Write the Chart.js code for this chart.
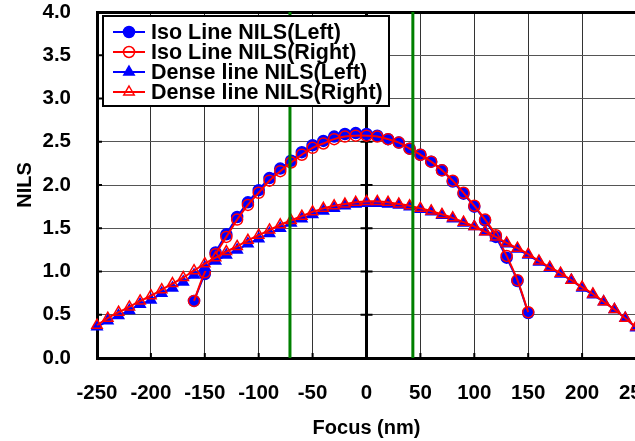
<!DOCTYPE html>
<html>
<head>
<meta charset="utf-8">
<script src="https://cdn.jsdelivr.net/npm/chart.js@4/dist/chart.umd.min.js"></script>
<style>
  html, body { margin: 0; padding: 0; background: #fff; overflow: hidden; }
  #wrap { position: relative; width: 660px; height: 441px; }
</style>
</head>
<body>
<div id="wrap"><canvas id="nilsChart"></canvas></div>
<script>
// focus positions (nm)
const focusIso = [-160, -150, -140, -130, -120, -110, -100, -90, -80, -70, -60, -50, -40, -30, -20, -10,
    0, 10, 20, 30, 40, 50, 60, 70, 80, 90, 100, 110, 120, 130, 140, 150];
const focusDense = [-250, -240, -230, -220, -210, -200, -190, -180, -170, -160, -150, -140, -130, -120, -110, -100,
    -90, -80, -70, -60, -50, -40, -30, -20, -10, 0, 10, 20, 30, 40, 50, 60, 70, 80, 90, 100,
    110, 120, 130, 140, 150, 160, 170, 180, 190, 200, 210, 220, 230, 240, 250];

// NILS values
const isoLeft = [0.66, 0.97, 1.22, 1.43, 1.63, 1.80, 1.94, 2.08, 2.19, 2.28, 2.38, 2.46, 2.51, 2.56, 2.59, 2.60,
    2.59, 2.57, 2.53, 2.49, 2.42, 2.35, 2.27, 2.17, 2.04, 1.90, 1.75, 1.59, 1.40, 1.16, 0.89, 0.52];
const isoRight = [0.66, 0.99, 1.20, 1.40, 1.60, 1.77, 1.91, 2.05, 2.16, 2.26, 2.35, 2.43, 2.48, 2.53, 2.56, 2.57,
    2.57, 2.56, 2.53, 2.49, 2.42, 2.35, 2.27, 2.17, 2.05, 1.91, 1.76, 1.60, 1.42, 1.18, 0.90, 0.53];
const denseLeft = [0.36, 0.43, 0.49, 0.55, 0.62, 0.67, 0.75, 0.81, 0.88, 0.96, 1.05, 1.12, 1.19, 1.25, 1.32, 1.38,
    1.44, 1.50, 1.56, 1.61, 1.66, 1.70, 1.73, 1.76, 1.78, 1.79, 1.79, 1.78, 1.77, 1.75, 1.72, 1.69, 1.65, 1.61, 1.56, 1.52,
    1.46, 1.39, 1.32, 1.26, 1.19, 1.11, 1.04, 0.97, 0.90, 0.81, 0.73, 0.65, 0.56, 0.46, 0.35];
const denseRight = [0.38, 0.46, 0.53, 0.59, 0.66, 0.72, 0.79, 0.86, 0.93, 1.01, 1.09, 1.16, 1.23, 1.29, 1.36, 1.42,
    1.48, 1.54, 1.59, 1.64, 1.69, 1.73, 1.76, 1.78, 1.80, 1.81, 1.81, 1.80, 1.78, 1.76, 1.73, 1.70, 1.66, 1.62, 1.57, 1.52,
    1.46, 1.40, 1.33, 1.27, 1.20, 1.12, 1.05, 0.98, 0.90, 0.82, 0.74, 0.65, 0.56, 0.46, 0.36];

// green focus markers
const markerFocus = [-71, 43];

// axes
const xTicks = [-250, -200, -150, -100, -50, 0, 50, 100, 150, 200, 250];
const xTickLabels = ['-250', '-200', '-150', '-100', '-50', '0', '50', '100', '150', '200', '250'];
const yTicks = [0, 0.5, 1, 1.5, 2, 2.5, 3, 3.5, 4];
const yTickLabels = ['0.0', '0.5', '1.0', '1.5', '2.0', '2.5', '3.0', '3.5', '4.0'];

const seriesNames = ['Iso Line NILS(Left)', 'Iso Line NILS(Right)', 'Dense line NILS(Left)', 'Dense line NILS(Right)'];

const BLUE = '#0000ff';
const RED = '#ff0000';
const GREEN = '#008000';
const FONT = "'Liberation Sans', Arial, sans-serif";

function pts(xs, ys) {
    return xs.map((x, i) => ({ x: x, y: ys[i] }));
}

function series(name, xs, ys, color, shape, filled) {
    return {
        label: name,
        data: pts(xs, ys),
        borderColor: color,
        backgroundColor: filled ? color : 'rgba(0,0,0,0)',
        borderWidth: 2,
        pointStyle: shape,
        pointRadius: shape === 'triangle' ? 6 : 5.5,
        pointBorderWidth: 1.5,
        pointBorderColor: color,
        pointBackgroundColor: filled ? color : 'rgba(0,0,0,0)',
        tension: 0.35,
        clip: false
    };
}

const ds = {
    isoL: series(seriesNames[0], focusIso, isoLeft, BLUE, 'circle', true),
    isoR: series(seriesNames[1], focusIso, isoRight, RED, 'circle', false),
    denseL: series(seriesNames[2], focusDense, denseLeft, BLUE, 'triangle', true),
    denseR: series(seriesNames[3], focusDense, denseRight, RED, 'triangle', false)
};

const greenLines = markerFocus.map(f => ({
    label: 'marker',
    data: [{ x: f, y: yTicks[0] }, { x: f, y: yTicks[yTicks.length - 1] }],
    borderColor: GREEN,
    borderWidth: 3,
    pointRadius: 0,
    tension: 0
}));

// small axis tick marks (inside) and crosses on the zero line
const axisMarks = {
    id: 'axisMarks',
    beforeDatasetsDraw(chart) {
        const ctx = chart.ctx;
        const xs = chart.scales.x, ys = chart.scales.y;
        const area = chart.chartArea;
        ctx.save();
        ctx.strokeStyle = '#000';
        ctx.lineWidth = 2;
        ctx.beginPath();
        const x0 = xs.getPixelForValue(0);
        yTicks.forEach(v => {
            const py = ys.getPixelForValue(v);
            ctx.moveTo(x0 - 6, py); ctx.lineTo(x0 + 6, py);
            ctx.moveTo(area.left, py); ctx.lineTo(area.left + 5, py);
        });
        xTicks.forEach(v => {
            const px = xs.getPixelForValue(v);
            ctx.moveTo(px, area.bottom); ctx.lineTo(px, area.bottom - 5);
        });
        ctx.stroke();
        ctx.restore();
    }
};

// legend box drawn inside the plot area
const boxLegend = {
    id: 'boxLegend',
    afterDraw(chart) {
        const ctx = chart.ctx;
        const area = chart.chartArea;
        const items = [ds.isoL, ds.isoR, ds.denseL, ds.denseR];
        const left = area.left + 6, top = area.top + 4, w = 286, h = 90;
        ctx.save();
        ctx.fillStyle = '#fff';
        ctx.fillRect(left, top, w, h);
        ctx.strokeStyle = '#000';
        ctx.lineWidth = 2;
        ctx.strokeRect(left, top, w, h);
        items.forEach((d, i) => {
            const y = top + 16 + i * 20;
            ctx.strokeStyle = d.borderColor;
            ctx.lineWidth = 2;
            ctx.beginPath();
            ctx.moveTo(left + 10, y);
            ctx.lineTo(left + 42, y);
            ctx.stroke();
            const cx = left + 26, r = d.pointRadius;
            ctx.beginPath();
            if (d.pointStyle === 'triangle') {
                ctx.moveTo(cx, y - r);
                ctx.lineTo(cx + r * 0.866, y + r / 2);
                ctx.lineTo(cx - r * 0.866, y + r / 2);
                ctx.closePath();
            } else {
                ctx.arc(cx, y, r, 0, Math.PI * 2);
            }
            ctx.fillStyle = d.pointBackgroundColor;
            ctx.fill();
            ctx.lineWidth = 1.5;
            ctx.strokeStyle = d.pointBorderColor;
            ctx.stroke();
            ctx.fillStyle = '#000';
            ctx.font = 'bold 21.5px ' + FONT;
            ctx.textBaseline = 'middle';
            ctx.textAlign = 'left';
            ctx.fillText(d.label, left + 48, y + 1);
        });
        ctx.restore();
    }
};

const chart = new Chart(document.getElementById('nilsChart').getContext('2d'), {
    type: 'line',
    data: {
        // first dataset is drawn on top
        datasets: [greenLines[0], greenLines[1], ds.denseR, ds.denseL, ds.isoR, ds.isoL]
    },
    options: {
        responsive: true,
        maintainAspectRatio: false,
        animation: false,
        events: [],
        layout: { padding: { top: 12, right: 24, bottom: 0, left: 0 } },
        plugins: {
            legend: { display: false },
            tooltip: { enabled: false }
        },
        scales: {
            x: {
                type: 'linear',
                min: xTicks[0],
                max: xTicks[xTicks.length - 1],
                afterBuildTicks: s => { s.ticks = xTicks.map(v => ({ value: v })); },
                afterFit: s => { s.height = 83; s.paddingLeft = 0; s.paddingRight = 0; },
                ticks: {
                    autoSkip: false,
                    maxRotation: 0,
                    padding: 23,
                    color: '#000',
                    font: { family: FONT, size: 20.5, weight: 'bold' },
                    callback: v => xTickLabels[xTicks.indexOf(v)]
                },
                grid: {
                    drawTicks: false,
                    color: c => c.tick && c.tick.value === 0 ? '#000' : '#333',
                    lineWidth: c => c.tick && c.tick.value === 0 ? 3 : 1
                },
                border: { color: '#000', width: 3 },
                title: {
                    display: true,
                    text: 'Focus (nm)',
                    color: '#000',
                    font: { family: FONT, size: 20, weight: 'bold' },
                    padding: { top: 0, bottom: 1 }
                }
            },
            y: {
                min: yTicks[0],
                max: yTicks[yTicks.length - 1],
                afterBuildTicks: s => { s.ticks = yTicks.map(v => ({ value: v })); },
                afterFit: s => { s.width = 97; s.paddingTop = 0; s.paddingBottom = 0; },
                ticks: {
                    padding: 26,
                    color: '#000',
                    font: { family: FONT, size: 20.5, weight: 'bold' },
                    callback: v => yTickLabels[yTicks.indexOf(v)]
                },
                grid: {
                    drawTicks: false,
                    color: c => c.tick && c.tick.value === 4 ? '#000' : '#555',
                    lineWidth: c => c.tick && c.tick.value === 4 ? 3 : 1
                },
                border: { color: '#000', width: 3 },
                title: {
                    display: true,
                    text: 'NILS',
                    color: '#000',
                    font: { family: FONT, size: 20, weight: 'bold' },
                    padding: { top: 13, bottom: 0 }
                }
            }
        }
    },
    plugins: [axisMarks, boxLegend]
});
</script>
</body>
</html>
